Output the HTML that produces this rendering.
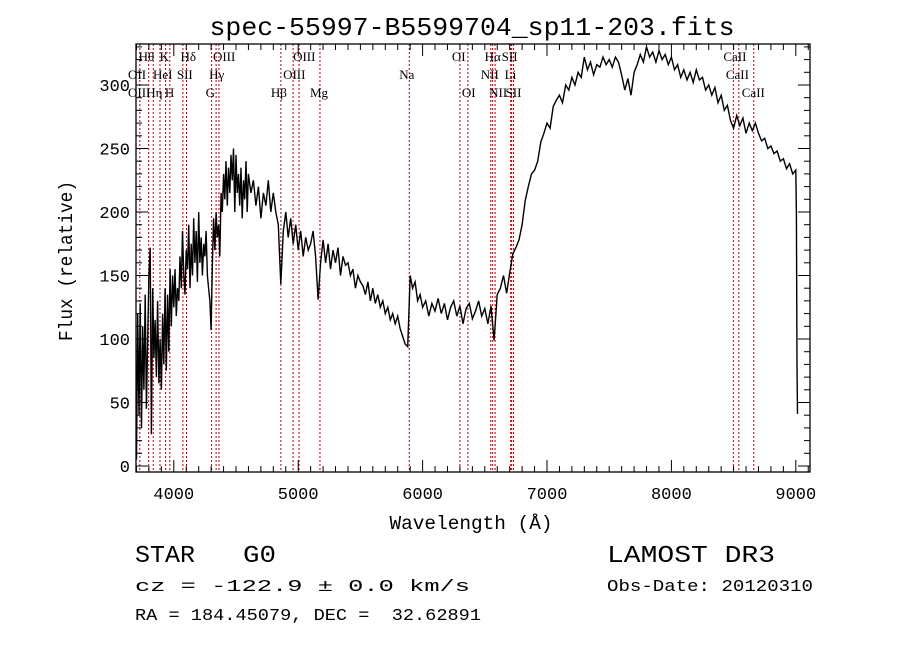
<!DOCTYPE html>
<html><head><meta charset="utf-8"><style>
html,body{margin:0;padding:0;background:#fff;}
svg{display:block;}
text{fill:#000;}
</style></head><body>
<svg id="chart" width="900" height="649" xmlns="http://www.w3.org/2000/svg">
<rect x="0" y="0" width="900" height="649" fill="#fff"/>
<text x="472" y="35" font-family="Liberation Mono, monospace" font-size="26" text-anchor="middle" textLength="525" lengthAdjust="spacingAndGlyphs">spec-55997-B5599704_sp11-203.fits</text>
<g id="lines"></g>
<g id="labels" font-family="Liberation Serif, serif" font-size="13"></g>
<path id="spec" fill="none" stroke="#000" stroke-width="1.4"/>
<g id="axes"></g>
<text x="471" y="529" font-family="Liberation Mono, monospace" font-size="19" text-anchor="middle" textLength="163" lengthAdjust="spacingAndGlyphs">Wavelength (Å)</text>
<text transform="translate(72,261) rotate(-90)" font-family="Liberation Mono, monospace" font-size="19" text-anchor="middle" textLength="160" lengthAdjust="spacingAndGlyphs">Flux (relative)</text>
<text x="135" y="562" font-family="Liberation Mono, monospace" font-size="24" textLength="60" lengthAdjust="spacingAndGlyphs">STAR</text>
<text x="243" y="562" font-family="Liberation Mono, monospace" font-size="24" textLength="33" lengthAdjust="spacingAndGlyphs">G0</text>
<text x="607" y="562" font-family="Liberation Mono, monospace" font-size="24" textLength="168" lengthAdjust="spacingAndGlyphs">LAMOST DR3</text>
<text x="135" y="591" font-family="Liberation Mono, monospace" font-size="17" textLength="335" lengthAdjust="spacingAndGlyphs">cz = -122.9 ± 0.0 km/s</text>
<text x="607" y="591" font-family="Liberation Mono, monospace" font-size="17" textLength="206" lengthAdjust="spacingAndGlyphs">Obs-Date: 20120310</text>
<text x="135" y="620" font-family="Liberation Mono, monospace" font-size="17" textLength="346" lengthAdjust="spacingAndGlyphs" xml:space="preserve">RA = 184.45079, DEC =  32.62891</text>
</svg>
<script>
const wavelengths=[
3700,3710,3720,3730,3740,3750,3760,3770,3780,3790,
3800,3810,3820,3830,3840,3850,3860,3870,3880,3890,
3900,3910,3920,3930,3940,3950,3960,3970,3980,3990,
4000,4010,4020,4030,4040,4050,4060,4070,4080,4090,
4100,4110,4120,4130,4140,4150,4160,4170,4180,4190,
4200,4210,4220,4230,4240,4250,4260,4270,4280,4290,
4300,4310,4320,4330,4340,4350,4360,4370,4380,4390,
4400,4410,4420,4430,4440,4450,4460,4470,4480,4490,
4500,4510,4520,4530,4540,4550,4560,4570,4580,4590,
4600,4620,4640,4660,4680,4700,4720,4740,4760,4780,
4800,4820,4840,4860,4880,4900,4920,4940,4960,4980,
5000,5020,5040,5060,5080,5100,5120,5140,5160,5180,
5200,5220,5240,5260,5280,5300,5320,5340,5360,5380,
5400,5420,5440,5460,5480,5500,5520,5540,5560,5580,
5600,5620,5640,5660,5680,5700,5720,5740,5760,5780,
5800,5820,5840,5860,5880,5900,5920,5940,5960,5980,
6000,6025,6050,6075,6100,6125,6150,6175,6200,6225,
6250,6275,6300,6325,6350,6375,6400,6425,6450,6475,
6500,6525,6550,6575,6600,6625,6650,6675,6700,6725,
6750,6775,6800,6825,6850,6875,6900,6925,
6950,6975,7000,7025,7050,7075,7100,7125,7150,7175,
7200,7225,7250,7275,7300,7325,7350,7375,7400,7425,
7450,7475,7500,7525,7550,7575,7600,7625,7650,7675,
7700,7725,7750,7775,7800,7825,7850,7875,7900,7925,
7950,7975,8000,8025,8050,8075,8100,8125,8150,8175,
8200,8225,8250,8275,8300,8325,8350,8375,8400,8425,
8450,8475,8500,8525,8550,8575,8600,8625,8650,8675,
8700,8725,8750,8775,8800,8825,8850,8875,8900,8925,
8950,8975,9000,9005,9010,9014];
const fluxes=[
5,120,40,128,30,110,60,135,45,100,
150,172,25,140,85,115,70,130,65,100,
60,120,80,140,75,135,90,155,110,150,
125,155,118,140,130,165,140,185,150,135,
170,155,190,140,175,150,195,160,185,145,
200,160,180,150,175,165,185,150,140,130,
107,160,195,170,200,180,190,165,215,200,
230,210,240,205,235,215,245,225,250,200,
245,215,230,205,235,195,225,210,240,200,
230,215,225,205,220,195,215,205,225,200,
215,200,190,143,185,200,180,195,175,190,
170,185,165,180,170,175,185,165,131,160,
178,160,175,155,170,160,172,150,165,158,
160,150,155,140,150,145,142,135,145,130,
140,128,135,125,130,120,125,115,120,112,
118,108,102,96,94,150,140,145,130,135,
125,130,118,128,122,132,120,128,115,125,
130,118,126,112,124,128,116,122,130,118,
124,112,126,99,135,140,150,136,152,167,
172,178,190,209,220,230,233,240,
255,262,270,266,283,288,292,286,300,296,
306,300,310,306,322,312,318,308,316,314,
322,316,320,314,322,318,308,296,305,292,
310,316,324,318,330,322,326,318,327,320,
324,316,322,312,316,306,312,304,310,302,
312,304,306,296,300,292,298,286,292,280,
284,272,266,276,268,274,262,270,264,270,
262,256,258,250,252,246,248,240,242,234,
238,230,233,199,80,41];
const tickValuesX=[4000,5000,6000,7000,8000,9000];
const tickValuesY=[0,50,100,150,200,250,300];
const lineWavelengths=[3727,3798,3835,3889,3934,3968,4073,4102,4304,4340,4363,4861,4959,5007,5175,5893,6300,6364,6548,6563,6583,6708,6716,6731,8498,8542,8662];
const lineLabels=["OII","Hθ","Hη","HeI","K","H","SII","Hδ","G","Hγ","OIII","Hβ","OIII","OIII","Mg","Na","OI","OI","NII","Hα","NII","Li","SII","SII","CaII","CaII","CaII"];
const lineRows=[2,1,3,2,1,3,2,1,3,2,1,3,2,1,3,2,1,3,2,1,3,2,1,3,1,2,3];

const X0=136,X1=810,Y0=44,Y1=472;
function xs(l){return 173.8+(l-4000)*0.1244;}
function ys(v){return 466-v*1.27;}
const NS="http://www.w3.org/2000/svg";
function mk(tag,attrs,parent){const e=document.createElementNS(NS,tag);for(const k in attrs)e.setAttribute(k,attrs[k]);parent.appendChild(e);return e;}

const lg=document.getElementById('lines'),lb=document.getElementById('labels');
const rowY={1:61,2:79,3:97};
const labelOffsets=[-10,-10,-7,-7,-6,-5,-6,-6,-6,-7,-6,-10,-10,-6,-10,-10,-8,-6,-10,-8,-6,-6,-10,-8,-10,-13,-12];
lineWavelengths.forEach((w,i)=>{
  const x=xs(w);
  const ln=mk('line',{x1:x,y1:Y0,x2:x,y2:Y1,stroke:'#b00000','stroke-width':1,'stroke-dasharray':'2,2'},lg);
  
  
  if(i===0) return;
  const t=mk('text',{x:x+labelOffsets[i],y:rowY[lineRows[i]]},lb);
  t.textContent=lineLabels[i];
  
  
});
[["OII",128,79],["OIII",128,97]].forEach(a=>{const t=mk('text',{x:a[1],y:a[2]},lb);t.textContent=a[0];
  
  });

let d='';
const n=Math.min(wavelengths.length,fluxes.length);
for(let i=0;i<n;i++){const v=Math.max(-4,Math.min(330,fluxes[i]));d+=(i?'L':'M')+xs(wavelengths[i]).toFixed(1)+','+ys(v).toFixed(1);}
document.getElementById('spec').setAttribute('d',d);

const ax=document.getElementById('axes');
const fr=mk('rect',{x:X0,y:Y0,width:X1-X0,height:Y1-Y0,fill:'none',stroke:'#000','stroke-width':1.3},ax);


for(let w=3700;w<=9100;w+=100){
  const x=xs(w);if(x<X0||x>X1)continue;
  const len=(w%1000===0)?12:6;
  mk('line',{x1:x,y1:Y1,x2:x,y2:Y1-len,stroke:'#000','stroke-width':1},ax);
  mk('line',{x1:x,y1:Y0,x2:x,y2:Y0+len,stroke:'#000','stroke-width':1},ax);
}
tickValuesX.forEach(w=>{const t=mk('text',{x:xs(w),y:499,'font-family':'Liberation Mono, monospace','font-size':17,'text-anchor':'middle'},ax);t.textContent=w;
  
  });
for(let v=0;v<=330;v+=10){
  const y=ys(v);if(y<Y0)continue;
  const len=(v%50===0)?12:6;
  mk('line',{x1:X0,y1:y,x2:X0+len,y2:y,stroke:'#000','stroke-width':1},ax);
  mk('line',{x1:X1,y1:y,x2:X1-len,y2:y,stroke:'#000','stroke-width':1},ax);
}
tickValuesY.forEach(v=>{const t=mk('text',{x:130,y:ys(v)+6,'font-family':'Liberation Mono, monospace','font-size':17,'text-anchor':'end'},ax);t.textContent=v;
  
  });
</script>
</body></html>
